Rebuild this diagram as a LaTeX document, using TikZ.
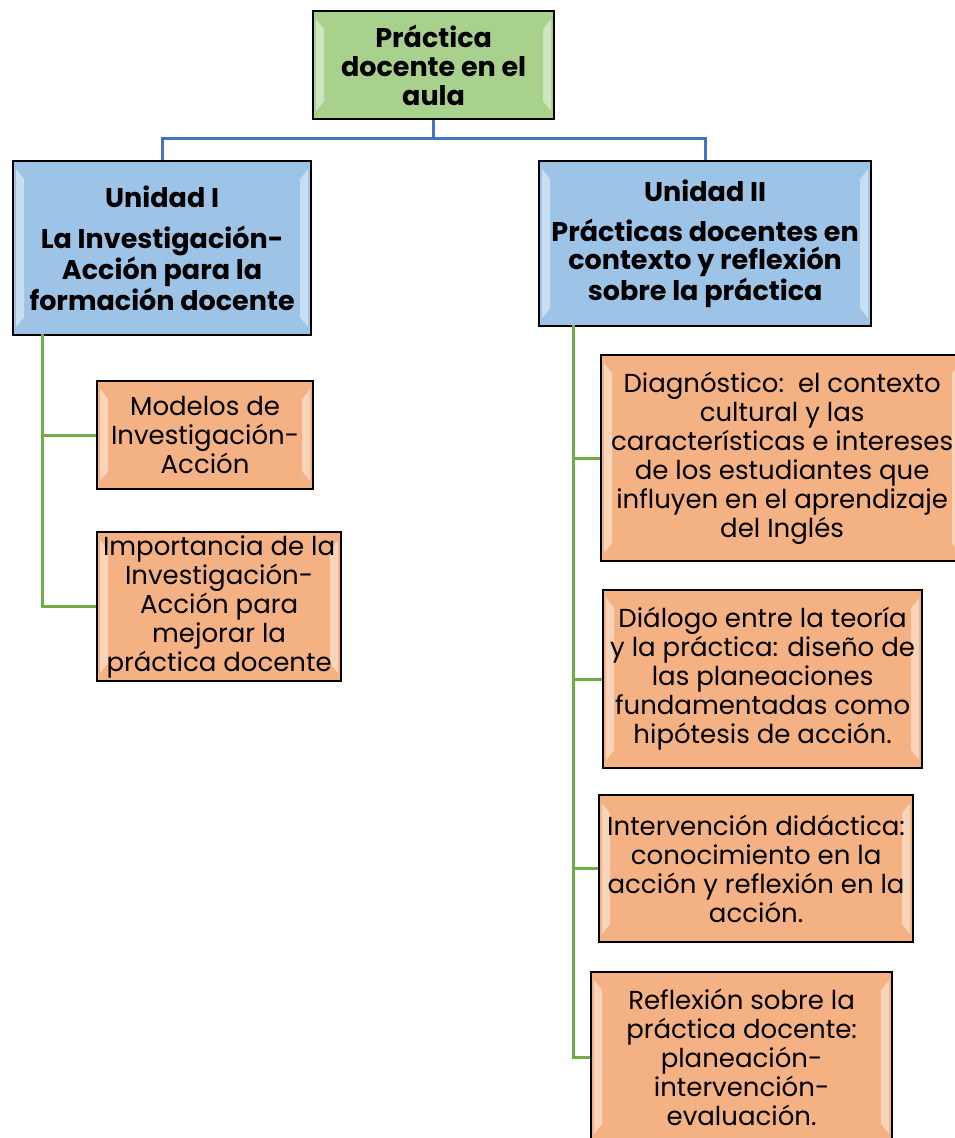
\documentclass[tikz,border=0pt]{standalone}
\usepackage{fontspec}
\setmainfont{Poppins}
\definecolor{gfill}{HTML}{A9D18E}
\definecolor{bfill}{HTML}{9DC3E6}
\definecolor{ofill}{HTML}{F4B183}
\definecolor{bline}{HTML}{4472C4}
\definecolor{gline}{HTML}{70AD47}
\tikzset{
  bevelbox/.style={draw=black, line width=2.2pt, inner sep=1pt, align=center, anchor=north west,
    font=\fontsize{26}{29}\selectfont,
    path picture={
      \fill[white,opacity=0.45] ([xshift=3pt,yshift=-8pt]path picture bounding box.north west) -- ([xshift=11pt,yshift=-18pt]path picture bounding box.north west) -- ([xshift=11pt,yshift=18pt]path picture bounding box.south west) -- ([xshift=3pt,yshift=8pt]path picture bounding box.south west) -- cycle;
      \fill[white,opacity=0.45] ([xshift=-3pt,yshift=-8pt]path picture bounding box.north east) -- ([xshift=-11pt,yshift=-18pt]path picture bounding box.north east) -- ([xshift=-11pt,yshift=18pt]path picture bounding box.south east) -- ([xshift=-3pt,yshift=8pt]path picture bounding box.south east) -- cycle;
    }},
  topbox/.style={bevelbox, fill=gfill, font=\fontsize{27}{29}\selectfont\bfseries},
  unitbox/.style={bevelbox, fill=bfill, font=\fontsize{27}{28.5}\selectfont\bfseries},
  itembox/.style={bevelbox, fill=ofill},
  bconn/.style={draw=bline, line width=3pt},
  gconn/.style={draw=gline, line width=3pt}
}
\begin{document}
\begin{tikzpicture}[x=1pt,y=-1pt]
\useasboundingbox (0,0) rectangle (954,1138);
\node[topbox, minimum width=241pt, minimum height=108pt] (top) at (312,10) {Práctica\\docente en el\\aula};
\node[unitbox, minimum width=298pt, minimum height=174pt] (u1) at (12,160) {Unidad I\\[13pt]La Investigación-\\Acción para la\\formación docente};
\node[unitbox, minimum width=332pt, minimum height=165pt] (u2) at (538,160) {Unidad II\\[11pt]Prácticas docentes en\\contexto y reflexión\\sobre la práctica};
\node[itembox, minimum width=216pt, minimum height=108pt] (m1) at (96,380) {Modelos de\\Investigación-\\Acción};
\node[itembox, minimum width=244pt, minimum height=149pt] (m2) at (96,531) {Importancia de la\\Investigación-\\Acción para\\mejorar la\\práctica docente};
\node[itembox, minimum width=362pt, minimum height=206pt] (d1) at (600,354) {Diagnóstico:\ \ el contexto\\cultural y las\\características e intereses\\de los estudiantes que\\influyen en el aprendizaje\\del Inglés};
\node[itembox, minimum width=319pt, minimum height=178pt] (d2) at (602,589) {Diálogo entre la teoría\\y la práctica: diseño de\\las planeaciones\\fundamentadas como\\hipótesis de acción.};
\node[itembox, minimum width=314pt, minimum height=147pt] (d3) at (598,794) {Intervención didáctica:\\conocimiento en la\\acción y reflexión en la\\acción.};
\node[itembox, minimum width=301pt, minimum height=170pt] (d4) at (590,971) {Reflexión sobre la\\práctica docente:\\planeación-\\intervención-\\evaluación.};
\coordinate (bj) at (432,138);
\coordinate (g1) at (42,334);
\coordinate (g2) at (573,325);
\draw[bconn] (top.south) -- (top.south |- bj);
\draw[bconn] (u1.north) |- (bj) -| (u2.north);
\draw[gconn] (g1) |- (m1.west);
\draw[gconn] (g1) |- (m2.west);
\draw[gconn] (g2) |- (d1.west);
\draw[gconn] (g2) |- (d2.west);
\draw[gconn] (g2) |- (d3.west);
\draw[gconn] (g2) |- (d4.west);
\end{tikzpicture}
\end{document}
